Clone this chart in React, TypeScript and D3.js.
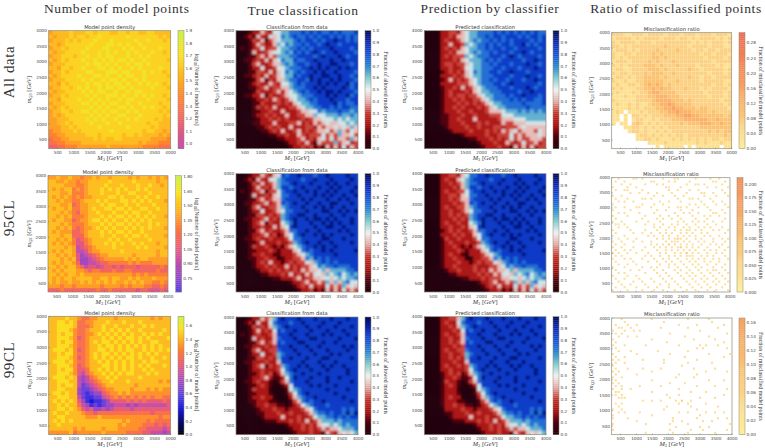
import React from "react";
import * as d3 from "d3";

const axisTicks = [500, 1000, 1500, 2000, 2500, 3000, 3500, 4000];
const rowLabels = ["All data", "95CL", "99CL"];
const columnTitles = ["Number of model points", "True classification", "Prediction by classifier", "Ratio of misclassified points"];
const panelTitles = ["Model point density", "Classification from data", "Predicted classification", "Misclassification ratio"];

const densityAll = ["566667666776777667767766776666","656667677677877777787777777676","566676767778777877777877877767","665677777787778878787787777777","566767777877788777878778777877","656677778777878787787877787767","566777677877878877787787877777","656767778778787878878778777776","566677777878878787787887877777","665776778777887878778787777877","566767777887778887887778787767","656777787778878778788778777776","566677778787787887877878777777","665767777878878788787787878767","566776787877878878878777787776","656677778787887787787887777777","566767777878778887877878787767","665777787787878778788777877776","566677778878787887787787777677","656767777787878778878778787767","566776778878787887787877777676","565677777787878778877787777767","556667777878787787787877776766","556676777787778778777777677666","555667677777877777787777767666","455666767777777877777776776656","445566666777677777677676666565","344556666667676677666666655554","334455556666666666666656555444","223344455555556555555554444333"];
const density95 = ["667667665667677677776767767676","776676656677777877777877777677","777766655677778777877787787767","767677565677787878787787877777","777667555677787778778877787777","767676565667777887877787877877","776766556777878777887878787776","777667456677787887787787778777","767767556678778878878778877877","777676546677877787787887787777","776767555677787878878787878776","767766456678878787787878787777","777676555677787878878787787877","776767545667878787787878787776","767666445677787878878778777777","777677444677787787787887877776","776767534567777878778777787777","767676533567778787877878777677","777767623456777787777787877776","767677622356677777877777777677","776767631234566777777677777677","777676731123456666676767766666","767677641122344555556565556666","776767754233234434344434444454","767677766545544454455444444544","776767767666666666666565655555","767677677776677677667676667666","767667667676767676676767665565","666566566666656666565666554454","444544444444544544444434433343"];
const density99 = ["888898876677888878888888878788","889989866778889888988898888888","889999866678898898889889898888","889998766788898989898898888898","889899766778989898989889898988","889998756788898989899898988889","889899766789899898989898899888","889998766788989989898989898988","899989756788998989899889898989","889899766789899898989898989888","889998756789898989899898898898","899989766788989898989889899888","889998756788899898989898988898","889899755688989898989889898888","889998754678898989899888989888","899989843467889898888898888888","889998843456788988898888888787","889899842345678888888788888888","889988832234567788887888787877","899898832123356778787777777777","889998842112245676767676767766","898989853101123555565656555565","889898864312123344434344444445","889989875453343455554555555555","898898887665666666666666656666","889988888777877777777777777677","898989888888888888787777676666","889888888888888887877776665656","888888787888878887777766555545","777778677777787777766665544434"];

const trueAll = ["000122432556677787878778787778","001214225457678778787887878787","000132413456667878878788988787","000124322465767787887898878888","010123523356677878788889888878","000142234556768787898788988887","000113424366677888878988898788","001123242457668778898889889888","000134223446767887889889988878","000122522355677788989898898988","000113324245767878898988988887","001123242345668788988998898878","000013413244677887989889898887","000123224325567878889898988978","000112342334467778898988889878","000013222342456787889899898887","001122413223455677788898988978","000012232432345667878889888788","000011322232324566778888978778","000013232422233456677887878877","000011223224222344557677787767","000012232322422334465566676676","000001223232322232344555656566","000011222422233423243454455656","000001123232242223324344545464","000000112324223423234453464354","000000001122322432333534364453","000000000011222342324535344364","000000000000122324214333634523","000000000000012232312142425243"];
const true95 = ["000122432458788988878898888988","001214225567888878898889888898","000132423467789888988898988988","000124232468878898889889898889","010123413357889889898898988898","000142232457788988898989889889","000113423447888898988898898988","001122342348789889889889988898","000134223346788898898989889888","000122522345778889888998898989","000113323236788998898889889888","001122342326789889899898988898","000123413225679888988989898898","000122322424589888898899889888","000113423223477889889888898988","000122342312457898898989888898","001123223222357788888998889888","000112422232236789889889888898","000132232121345678898988988888","000112223212224578788989888889","000122322112223456788888988888","000112232201223347687878888888","000012324221232335467878788888","000012232322423233457677877788","000001223232323243445646666778","000000112223242324355465675676","000000000112223423344554565667","000000000000012234234364646755","000000000000001232423253436454","000000000000000122312142425343"];
const true99 = ["000122434689888988898889888988","001214225788878898888988898888","000132324678988889889888988898","000124232587889888988898889888","010123223488898889888989888988","000142322478889888998888898889","000113423487888998888988988888","001122232388898889889888889898","000134223378889888988898888988","000122522367888988898889898888","000113323268898889888998888898","001122232248888898889888988888","000123413236788989888989889888","000122322235789888988898888988","000112323124678898889888888988","000122342112579888988898898888","001123221013478889888898888898","000112321001258888989888988888","000132220000156788888898888988","000112221000135789888888988888","000122322000024678898888889888","000112221100013478788988888898","000012232211012356788878888888","000001222322122234578888887878","000001122232232223467787887979","000000122224222322356677878788","000000011122232324234666767777","000000000000122232324556567677","000000000000012232323434456667","000000000000001222322143245456"];

const predAll = ["000022332456677778787878787877","000022324456677878878887878878","000023223456767787878788887878","000022422365677878788788978788","000023232456677878878878888878","000022324456767787888788987888","000023233365677788878987888878","000022232456667878788888788988","000023323345667787888788898878","000022322355667778878887888988","000012323245767788788988878888","000022232345667778888788898878","000012423234567787887888788988","000022223334567778878988888878","000012232423456777888788898788","000012322232456677788887889888","000012323323345667778788988878","000012232322334567777878788778","000012223232323456677777877778","000012232322232345667777787777","000012223223222344456667676767","000011222322322233355566666666","000011223222422222344455566666","000011222322232322243344455555","000001222232232223323334544444","000000122223222323243453444354","000000000122222322333534344454","000000000001122232323534334443","000000000000012223224323533423","000000000000001222322142424233"];
const pred95 = ["000022332457788988878898888988","000023224567888878898889888898","000022323467789888988898988988","000022232468878898889889898889","000023223357889889898898988898","000022332457788988898989889889","000022323447888898988898898988","000022232348789889889889988898","000023223346788898898989889888","000022322345778889888998898989","000022323236788998898889889888","000022232326789889899898988898","000023223225679888988989898898","000022322324589888898899889888","000012323223477889889888898988","000022232322457898898989888898","000013223222357788888998889888","000012322232236789889889888898","000012232121345678898988988888","000012223212224578788989888889","000012322102223456788888988888","000012232200223347687878888888","000012223221232335467878788888","000012232222322233457677877788","000001223222323243445646666778","000000112222232324355465675676","000000000112223233344554565667","000000000000012234234364646755","000000000000001232423253436454","000000000000000122312142425343"];
const pred99 = ["000022334689888988898889888988","000023225788878898888988898888","000022324678988889889888988898","000022232587889888988898889888","000023223488898889888989888988","000022322478889888998888898889","000022323487888998888988988888","000022232388898889889888889898","000023223378889888988898888988","000022322367888988898889898888","000022323268898889888998888898","000022232248888898889888988888","000023223236788989888989889888","000022322235789888988898888988","000012323124678898889888888988","000012232112579888988898898888","000013221013478889888898888898","000012321001258888989888988888","000012220000156788888898888988","000012221000135789888888988888","000012322000024678898888889888","000012221100013478788988888898","000012232211012356788878888888","000002222322122234578888887878","000001122232232223467787887979","000000122224222322356677878788","000000011122232324234666767777","000000000000122232324556567677","000000000000012232323434456667","000000000000001222322143245456"];

const missAll = ["222112221222212221222122212221","122221212222122212212122221212","212222122212222222221212122212","221212222222232222212222122211","122212122223222232221221221222","211221222232322222222212212221","212122222233232222222221222212","122212222323222322222222212222","212122223332322232222122221211","122112222333232222232212222212","212212223233322322222222122212","122121223333232222232212212222","211211223333322232222212222211","121122123434323222222222212212","212111223343433222322212122221","121112122344333322222221222212","111211222334443332222222122212","211111222234444333232222222122","121121211233445433332222222212","111121212223344544333233222221","121011121222334454443333232222","110102212122233344554433333323","110101221121222333444444334333","101102321212122223233344433433","000112212121212222222233333333","000012212112121222222222323233","000000122121212122122222222232","000000112212111212121212122122","000000000111121111111212111211","000000000001011111010111111011"];
const miss95 = ["0010000110100000010001100000100001001000","0100100000000110000101000010000000110010","0001001000010001010000000100110100000100","1000010010000000001100010000000010010001","0100110000100000000100100010010000000100","0000001001001001000010000100001100100010","1001000000000010010001001000000100010001","0100010000110100000000100011010001000000","0010100100000000100100010000001000100100","1000000000100010010000000010100100010010","0100100011000100000100110100010010000001","1000001000000001001000010001000001000100","0010100001000010000001001010010000110010","1000010000010000100100100001000101001000","0100000000100001010010010000100010000010","1001000010001000100000101001010100100100","0110100000010010010010100100100010010000","0010010000000010100101001010010101000100","1000001000010001001001010110101000101001","0100000100100100101010010101001010000010","1000100000001010010100101010100101001000","0010010010000001010101210100101000100101","1001000100100100001011101010010100100010","0100100000000101010201010101001001010100","1001000100010010101010120101010010001001","0100101000100001001010101010100101010010","1010010010001000101001010201010010010100","0101000000010100100101010111001010100010","1000101000100010010100100101010100101001","0100000100001001001010010010100101001000","0010010010000000100101001001010010010010","1000100000100101000100100100101000100100","0100001001000010010001010010010010110010","0010100000010001001000100101001001001001","1000010010000000100100010010100100100100","0100100001000100010010001001001010010010","0010000100100010001001000100100100101001","0001001000010000100100100010010010010010","0100100010001001000100010001001001000100","1000010000100010010001000100100010010001"];
const miss99 = ["0001000000000100000000000100000010000000","0000100000000000010000000000000001000000","0100010010000000000000100000100000000100","0011001000000000100000000100000000010000","1000100101000000000000000000010000000000","0101000000000000000100000000000000000010","0010010010000000000000001000000010000000","1000000000000100000000000001000000100000","0100000000000000001000000000000000000100","1000100000010000000000100000010100010000","0100000000000000000000000000101000000010","0010001000000001000000000100000000000000","1000000010000000000100000000000010000001","0100100000000000000000001000000000000100","1010000000100000010000000000100000000000","0100100000000000010000000100000001000000","1000000000000000000000010000000000000000","0100010000100000100000000001000000100000","1010000000000100000000000000000100000010","0100000010000000000000100000100000000000","1001000000000000000001000001000000000000","0100000000000100000000000000000010000100","1010000000000000000100001000000000000000","0101000001000000100000000000100000100000","1001001000000000000000100000000000000010","0110000000000100000000000010000100000000","0101000000000000001000100000000000000100","0011100000000000000100000000010000100000","0000000000100100100001020010000000000000","0101000000000000000000100100000100000000","0010000000000000001000000010000000010000","1001000000000000010000000000100000000000","0010100001000000000000100100000100100100","1000000000000100000000000000010000000000","1000010000000000000010000000100000010010","0000000010000000000010010000001001000000","1000000000010000000100000100000000000001","0000000000000000000001000000010010000000","1000000000000000000100000010001000000010","0000000000010000000010000100000000100000"];

// colour ramps
const densityStops = [[0, "#000010"], [0.11, "#0a0a70"], [0.23, "#1a1ae0"], [0.34, "#5a3fe0"], [0.45, "#a048c0"], [0.52, "#c850a8"], [0.62, "#f0606a"], [0.72, "#ff8030"], [0.8, "#ffb020"], [0.9, "#fbe020"], [1, "#c8f040"]] as [number, string][];
const fractionStops = [[0, "#230008"], [0.1, "#4a0010"], [0.2, "#a81010"], [0.3, "#c42a20"], [0.4, "#e4a8a4"], [0.5, "#f2f2f2"], [0.6, "#88ccd0"], [0.7, "#2a88d0"], [0.8, "#1450d8"], [0.9, "#0a28b8"], [1, "#040a58"]] as [number, string][];
const missStops = [[0, "#ffee9a"], [0.05, "#fcd88a"], [0.1, "#fbc070"], [0.167, "#f8a060"], [0.21, "#f68c55"], [0.31, "#f06a50"]] as [number, string][];

const ramp = (stops: [number, string][]) =>
  d3.scaleLinear<string>().domain(stops.map((s) => s[0])).range(stops.map((s) => s[1])).interpolate(d3.interpolateRgb).clamp(true);

const densityRamp = ramp(densityStops);
const fractionRamp = ramp(fractionStops);
const missRamp = ramp(missStops);

type Panel = {
  data: string[]; lo: number; hi: number; cmin: number; cmax: number; ticks: number[]; tickDigits: number;
  color: (v: number) => string; blank: boolean; cbLabel: "log" | "frac" | "miss"; unit: number; blur: string;
};

const fracTicks = d3.range(0, 11).map((d) => d / 10);
const makeDensity = (data: string[], lo: number, hi: number, cmin: number, cmax: number, ticks: number[], digits: number): Panel => ({
  data, lo, hi, cmin, cmax, ticks, tickDigits: digits, color: (v) => densityRamp(v / cmax), blank: false, cbLabel: "log", unit: 0, blur: "url(#fine)",
});
const makeFraction = (data: string[]): Panel => ({
  data, lo: 0, hi: 0.96, cmin: 0, cmax: 1, ticks: fracTicks, tickDigits: 1, color: (v) => fractionRamp(v), blank: false, cbLabel: "frac", unit: 0, blur: "url(#soft)",
});
const makeMiss = (data: string[], unit: number, cmax: number, ticks: number[], digits: number): Panel => ({
  data, lo: 0, hi: 1, cmin: 0, cmax, ticks, tickDigits: digits, color: (v) => missRamp(v), blank: true, cbLabel: "miss", unit, blur: "url(#fine)",
});

const grid: Panel[][] = [
  [makeDensity(densityAll, 1.0, 1.84, 0.96, 1.9, d3.range(10).map((i) => 1 + i * 0.1), 1), makeFraction(trueAll), makeFraction(predAll), makeMiss(missAll, 0.032, 0.307, [0, 0.04, 0.08, 0.12, 0.16, 0.2, 0.24, 0.28], 2)],
  [makeDensity(density95, 0.7, 1.73, 0.61, 1.81, d3.range(8).map((i) => 0.75 + i * 0.15), 2), makeFraction(true95), makeFraction(pred95), makeMiss(miss95, 0.05, 0.212, d3.range(9).map((i) => i * 0.025), 3)],
  [makeDensity(density99, 0.38, 1.56, 0, 1.74, d3.range(9).map((i) => i * 0.2), 1), makeFraction(true99), makeFraction(pred99), makeMiss(miss99, 0.05, 0.167, d3.range(9).map((i) => i * 0.02), 2)],
];

// layout: [left, right, top, bottom, colourbar left, colourbar-label x, y-label x]
const panelBoxes = [
  [[48.7, 170.7, 30.7, 148.7, 178, 196, 31], [236, 358, 30.7, 148.7, 365, 385, 218], [424.3, 546, 30.7, 148.7, 553, 573, 406], [611.7, 731.7, 32.7, 148.7, 739, 760, 593]],
  [[48, 168, 175.7, 292, 175.7, 196, 31], [236, 358, 173.7, 292, 365, 385, 218], [424.3, 546, 173.7, 292, 553, 573, 406], [611.7, 730, 177.7, 292, 737, 760, 593]],
  [[48.7, 170.7, 316.3, 434.7, 178, 196, 31], [236, 358, 317, 434.7, 365, 385, 218], [424.3, 546, 316.7, 434.7, 553, 573, 406], [611.7, 732, 318, 434.7, 739, 760, 593]],
];
const titleX = [116.8, 303, 490, 676];
const titleY = [13, 15, 13, 13];
const rowLabelY = [72, 218, 360];

const SANS = "'DejaVu Sans', sans-serif";
const SERIF = "'Liberation Serif', serif";
const TICK_COLOR = "#444";

function HeatPanel({ p, box, title, id }: { p: Panel; box: number[]; title: string; id: string }) {
  const [l, r, t, b, cb, cbLabelX, yLabelX] = box;
  const n = p.data.length;
  const m = p.data[0].length;
  const sparse = p.blank && m > 30;
  const xBand = d3.scaleBand<number>().domain(d3.range(m)).range([l, r]);
  const yBand = d3.scaleBand<number>().domain(d3.range(n)).range([t, b]);
  const level = d3.scaleLinear().domain([0, 9]).range([p.lo, p.hi]);
  const x = d3.scaleLinear().domain([220, 4000]).range([l, r]);
  const y = d3.scaleLinear().domain([220, 4000]).range([b, t]);
  const cy = d3.scaleLinear().domain([p.cmin, p.cmax]).range([b, t]);
  const steps = d3.range(60);
  const stepH = (b - t) / steps.length;
  const cbLabel =
    p.cbLabel === "log" ? null : p.cbLabel === "frac" ? "Fraction of allowed model points" : "Fraction of misclassified model points";
  return (
    <g>
      <clipPath id={id}><rect x={l} y={t} width={r - l} height={b - t} /></clipPath>
      <g clipPath={`url(#${id})`}>
        <rect x={l} y={t} width={r - l} height={b - t} fill="#fff" />
        <g filter={p.blur}>
          {p.data.map((row, i) =>
            Array.from(row).map((ch, j) => {
              const d = +ch;
              if (p.blank && d === 0) return null;
              const v = p.blank ? d * p.unit : level(d);
              const ex0 = p.blank ? 0 : j === 0 ? 3 : 0;
              const ex1 = p.blank ? 0 : j === m - 1 ? 3 : 0.6;
              const ey0 = p.blank ? 0 : i === 0 ? 3 : 0;
              const ey1 = p.blank ? 0 : i === n - 1 ? 3 : 0.6;
              const shrink = sparse ? 0.7 : 1;
              return (
                <rect key={j} x={(xBand(j) as number) - ex0} y={(yBand(i) as number) - ey0}
                  width={xBand.bandwidth() * shrink + ex0 + ex1} height={yBand.bandwidth() * shrink + ey0 + ey1}
                  fill={p.color(v)} fillOpacity={sparse ? 0.85 : 1} />
              );
            })
          )}
        </g>
      </g>
      <rect x={l} y={t} width={r - l} height={b - t} fill="none" stroke="#8a8a7a" strokeWidth={0.7} />
      <text x={(l + r) / 2} y={t - 1.8} textAnchor="middle" fontFamily={SANS} fontSize={5.2} fill="#333">{title}</text>
      {axisTicks.map((v) => (
        <g key={v}>
          <line x1={x(v)} x2={x(v)} y1={b} y2={b - 1.2} stroke="#555" strokeWidth={0.4} />
          <text x={x(v)} y={b + 5.6} textAnchor="middle" fontFamily={SANS} fontSize={4.2} fill={TICK_COLOR}>{v}</text>
          <line y1={y(v)} y2={y(v)} x1={l} x2={l + 1.2} stroke="#555" strokeWidth={0.4} />
          <text x={l - 1.8} y={y(v) + 1.5} textAnchor="end" fontFamily={SANS} fontSize={4.2} fill={TICK_COLOR}>{v}</text>
        </g>
      ))}
      <text x={(l + r) / 2} y={b + 11.5} textAnchor="middle" fontFamily={SERIF} fontSize={6.4} fill="#333">
        <tspan fontStyle="italic">M</tspan><tspan dy={1} fontSize={4.4}>3</tspan><tspan dy={-1}> [</tspan><tspan fontStyle="italic">GeV</tspan><tspan>]</tspan>
      </text>
      <text transform={`translate(${yLabelX},${(t + b) / 2}) rotate(-90)`} textAnchor="middle" fontFamily={SERIF} fontSize={6.4} fill="#333">
        <tspan fontStyle="italic">m</tspan><tspan dy={1} fontSize={4.4} fontStyle="italic">Q3</tspan><tspan dy={-1}> [</tspan><tspan fontStyle="italic">GeV</tspan><tspan>]</tspan>
      </text>
      {steps.map((s) => {
        const v = p.cmin + ((s + 0.5) / steps.length) * (p.cmax - p.cmin);
        return <rect key={s} x={cb} y={b - (s + 1) * stepH} width={6} height={stepH + 0.2} fill={p.color(v)} />;
      })}
      <rect x={cb} y={t} width={6} height={b - t} fill="none" stroke="#8a8a7a" strokeWidth={0.5} />
      {p.ticks.map((v) => (
        <text key={v} x={cb + 7.5} y={cy(v) + 1.5} fontFamily={SANS} fontSize={4.2} fill={TICK_COLOR}>{v.toFixed(p.tickDigits)}</text>
      ))}
      <text transform={`translate(${cbLabelX},${(t + b) / 2}) rotate(90)`} textAnchor="middle" dominantBaseline="middle" fontFamily={SERIF} fontSize={5.8} fill="#333">
        {cbLabel ?? (
          <>
            <tspan>log</tspan><tspan dy={1} fontSize={4}>10</tspan><tspan dy={-1}>[Number of model points]</tspan>
          </>
        )}
      </text>
    </g>
  );
}

export default function App() {
  return (
    <svg width={765} height={448} viewBox="0 0 765 448" style={{ position: "absolute", left: 0, top: 0, background: "#fff" }}>
      <defs>
        <filter id="soft" x="-3%" y="-3%" width="106%" height="106%">
          <feGaussianBlur stdDeviation={0.9} />
        </filter>
        <filter id="fine" x="-3%" y="-3%" width="106%" height="106%">
          <feGaussianBlur stdDeviation={0.6} />
        </filter>
      </defs>
      {columnTitles.map((c, i) => (
        <text key={c} x={titleX[i]} y={titleY[i]} textAnchor="middle" fontFamily={SERIF} fontSize={13.5} fill="#333" letterSpacing={0.6}>{c}</text>
      ))}
      {rowLabels.map((c, i) => (
        <text key={c} transform={`translate(14,${rowLabelY[i]}) rotate(-90)`} textAnchor="middle" fontFamily={SERIF} fontSize={15} fill="#333" letterSpacing={0.6}>{c}</text>
      ))}
      {grid.map((row, i) =>
        row.map((p, j) => (
          <HeatPanel key={`${i}-${j}`} id={`clip-${i}-${j}`} p={p} box={panelBoxes[i][j]} title={panelTitles[j]} />
        ))
      )}
    </svg>
  );
}
